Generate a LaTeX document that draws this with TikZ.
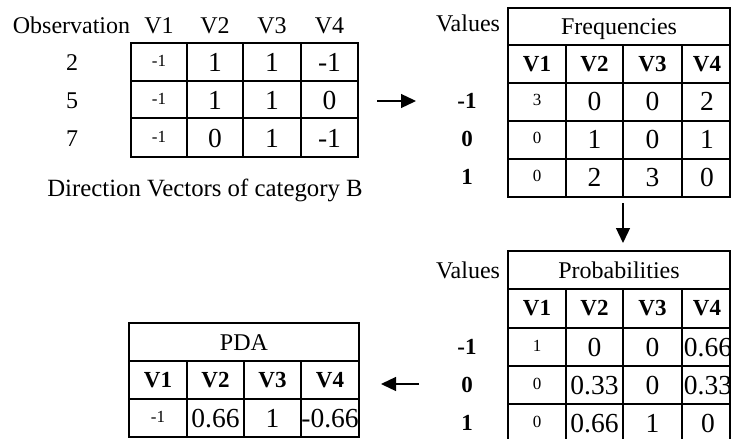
\documentclass[tikz,border=0pt]{standalone}
\usepackage{fontspec}
\setmainfont{Liberation Serif}
\usetikzlibrary{arrows.meta}
\begin{document}
\begin{tikzpicture}[x=1pt,y=-1pt,
  every node/.style={inner sep=0pt,text depth=0pt},
  lbl/.style={font=\fontsize{24}{28}\selectfont,text height=16.3pt},
  captext/.style={font=\fontsize{24.8}{28}\selectfont,text height=16.8pt},
  big/.style={font=\fontsize{27.5}{30}\selectfont,text height=18.7pt},
  small/.style={font=\fontsize{17}{20}\selectfont,text height=11.6pt,yshift=1.5pt},
  hdr/.style={font=\fontsize{23}{26}\selectfont\bfseries,text height=15.6pt},
  rowlbl/.style={font=\fontsize{23}{26}\selectfont\bfseries,text height=15.6pt},
  gridline/.style={line width=1.2pt},
  conn/.style={line width=1.3pt,-{Triangle[length=15pt,width=14pt]}}]
\useasboundingbox (0,0) rectangle (731,439);

% ---------- Direction vectors table ----------
\node[lbl] (obs) at (71.5,25) {Observation};
\foreach \x [count=\i] in {159,215,272,329.5} \node[lbl] (dvh-\i) at (\x,25) {V\i};
\draw[gridline] (131,43) rectangle (358,157);
\draw[gridline] (131,81) -- (358,81) (131,118) -- (358,118);
\draw[gridline] (187,43) -- (187,157) (243,43) -- (243,157) (301,43) -- (301,157);
\foreach \y/\o/\a/\b/\c/\d [count=\i] in {62/2/-1/1/1/-1, 100/5/-1/1/1/0, 138/7/-1/0/1/-1}{
  \node[lbl] (dvr-\i) at (72,\y) {\o};
  \node[small] (dv-\i-1) at (159,\y) {\a};
  \node[big] (dv-\i-2) at (215,\y) {\b};
  \node[big] (dv-\i-3) at (272,\y) {\c};
  \node[big] (dv-\i-4) at (329.5,\y) {\d};
}
\node[captext] (dvcap) at (205,188) {Direction Vectors of category B};

% ---------- Frequencies table ----------
\node[lbl] (fval) at (468,23) {Values};
\draw[gridline] (508,8) rectangle (730,197);
\draw[gridline] (508,45) -- (730,45) (508,83) -- (730,83) (508,121) -- (730,121) (508,159) -- (730,159);
\draw[gridline] (566,45) -- (566,197) (623,45) -- (623,197) (682,45) -- (682,197);
\node[lbl] (ftitle) at (619,26) {Frequencies};
\foreach \x [count=\i] in {537,594.5,652.5,707} \node[hdr] (fh-\i) at (\x,64) {V\i};
\foreach \y/\v/\a/\b/\c/\d [count=\i] in {101/-1/3/0/0/2, 139/0/0/1/0/1, 177/1/0/2/3/0}{
  \node[rowlbl] (fr-\i) at (467,\y) {\v};
  \node[small] (fq-\i-1) at (537,\y) {\a};
  \node[big] (fq-\i-2) at (594.5,\y) {\b};
  \node[big] (fq-\i-3) at (652.5,\y) {\c};
  \node[big] (fq-\i-4) at (707,\y) {\d};
}

% ---------- Probabilities table ----------
\node[lbl] (pval) at (468,270) {Values};
\draw[gridline] (508,445) -- (508,251) -- (730,251) -- (730,445);
\draw[gridline] (508,289) -- (730,289) (508,328) -- (730,328) (508,366) -- (730,366) (508,404) -- (730,404);
\draw[gridline] (566,289) -- (566,445) (623,289) -- (623,445) (682,289) -- (682,445);
\node[lbl] (ptitle) at (619,270) {Probabilities};
\foreach \x [count=\i] in {537,594.5,652.5,707} \node[hdr] (ph-\i) at (\x,308) {V\i};
\foreach \y/\v/\a/\b/\c/\d [count=\i] in {347/-1/1/0/0/0.66, 385/0/0/0.33/0/0.33, 423/1/0/0.66/1/0}{
  \node[rowlbl] (pr-\i) at (467,\y) {\v};
  \node[small] (pq-\i-1) at (537,\y) {\a};
  \node[big] (pq-\i-2) at (594.5,\y) {\b};
  \node[big] (pq-\i-3) at (652.5,\y) {\c};
  \node[big] (pq-\i-4) at (708,\y) {\d};
}

% ---------- PDA table ----------
\draw[gridline] (129,323) rectangle (359,437);
\draw[gridline] (129,361) -- (359,361) (129,399) -- (359,399);
\draw[gridline] (187,361) -- (187,437) (244,361) -- (244,437) (301,361) -- (301,437);
\node[lbl] (pdatitle) at (244,342) {PDA};
\foreach \x [count=\i] in {158,215.5,272.5,330} \node[hdr] (pdh-\i) at (\x,380) {V\i};
\node[small] (pd-1) at (158,418) {-1};
\node[big] (pd-2) at (215.5,418) {0.66};
\node[big] (pd-3) at (272.5,418) {1};
\node[big] (pd-4) at (330,418) {-0.66};

% ---------- connectors ----------
\coordinate (a1s) at (377,101);
\coordinate (a1e) at (416,101);
\coordinate (a2s) at (623,203);
\coordinate (a2e) at (623,243);
\coordinate (a3s) at (419,384);
\coordinate (a3e) at (381,384);
\draw[conn] (a1s) -- (a1e);
\draw[conn] (a2s) -- (a2e);
\draw[conn] (a3s) -- (a3e);
\end{tikzpicture}
\end{document}
